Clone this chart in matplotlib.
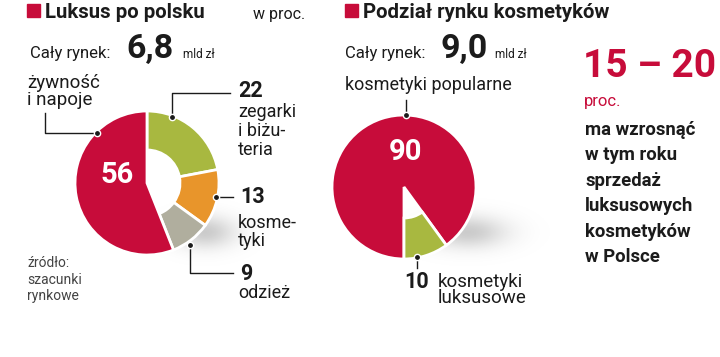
import numpy as np
import matplotlib
matplotlib.use("Agg")
import matplotlib.pyplot as plt
from matplotlib.patches import Rectangle

# ---------------- data ----------------
lux_categories = ["zegarki i biżuteria", "kosmetyki", "odzież", "żywność i napoje"]
lux_values = [22, 13, 9, 56]
cos_categories = ["kosmetyki popularne", "kosmetyki luksusowe"]
cos_values = [90, 10]
lux_total = "6,8"
cos_total = "9,0"
growth_range = "15 – 20"

RED = "#c70c3a"
GREEN = "#a8b840"
ORANGE = "#e8952b"
GRAY = "#b0ae9e"
DARK = "#1b1b1b"

plt.rcParams['font.family'] = ['Roboto', 'DejaVu Sans']

W, H = 720, 357
fig = plt.figure(figsize=(7.2, 3.57), dpi=100)
ax = fig.add_axes([0, 0, 1, 1])

def Y(y):
    return H - y

# ---------------- soft shadows ----------------
def shadow(cx, cy, sx, sy, alpha=0.45):
    xs = np.linspace(cx - 3 * sx, cx + 3 * sx, 120)
    ys = np.linspace(cy - 3 * sy, cy + 3 * sy, 80)
    X, YY = np.meshgrid(xs, ys)
    a = np.exp(-((X - cx) / sx) ** 2 - ((YY - cy) / sy) ** 2) * alpha
    img = np.zeros(X.shape + (4,))
    img[..., :3] = 0.55
    img[..., 3] = a
    ax.imshow(img, extent=(xs[0], xs[-1], Y(ys[-1]), Y(ys[0])), origin='upper',
              zorder=0, interpolation='bilinear')

shadow(205, 232, 30, 16)
shadow(468, 232, 38, 16)

# ---------------- left donut ----------------
lux_colors = [GREEN, ORANGE, GRAY, RED]
c1 = (147, Y(183))
r1 = 72
w1, _ = ax.pie(lux_values, colors=lux_colors, startangle=90, counterclock=False,
               center=c1, radius=r1,
               wedgeprops=dict(width=r1 - 33, edgecolor='white', linewidth=2.0))
w1[3].set_width(None)

# ---------------- right pie ----------------
c2 = (404, Y(187))
r2 = 72
w2, _ = ax.pie(cos_values, colors=[RED, GREEN], startangle=270, counterclock=False,
               center=c2, radius=r2,
               wedgeprops=dict(width=r2 - 31, edgecolor='white', linewidth=2.0))
w2[0].set_width(None)

ax.set_xlim(0, W)
ax.set_ylim(0, H)
ax.set_aspect('equal')
ax.axis('off')

BODY = 13

# ---------------- titles ----------------
ax.add_patch(Rectangle((27, Y(17)), 13, 13, color=RED, zorder=3))
ax.text(45, Y(18), "Luksus po polsku", fontsize=14.7, fontweight='bold', color=DARK, va='baseline')
ax.text(253, Y(19), "w proc.", fontsize=11.5, color=DARK, va='baseline')

ax.add_patch(Rectangle((345, Y(17)), 13, 13, color=RED, zorder=3))
ax.text(363, Y(18), "Podział rynku kosmetyków", fontsize=14.7, fontweight='bold', color=DARK, va='baseline')

# totals
ax.text(30, Y(58), "Cały rynek:", fontsize=12, color=DARK, va='baseline')
ax.text(126, Y(58), lux_total, fontsize=24.5, fontweight='bold', color=DARK, va='baseline')
ax.text(183, Y(58), "mld zł", fontsize=8.5, color=DARK, va='baseline')

ax.text(345, Y(58), "Cały rynek:", fontsize=12, color=DARK, va='baseline')
ax.text(441, Y(58), cos_total, fontsize=24.5, fontweight='bold', color=DARK, va='baseline')
ax.text(495, Y(58), "mld zł", fontsize=8.5, color=DARK, va='baseline')

# ---------------- left labels ----------------
lw = 1.0
def lead(xs, ys, dot):
    ax.plot(xs, [Y(v) for v in ys], color=DARK, lw=lw, zorder=4)
    ax.plot([dot[0]], [Y(dot[1])], 'o', color=DARK, ms=4.5, mec='white', mew=1.0, zorder=5)

ax.text(27, Y(88), "żywność", fontsize=BODY + 0.5, color=DARK, va='baseline')
ax.text(27, Y(105), "i napoje", fontsize=BODY + 0.5, color=DARK, va='baseline')
lead([45, 45, 97], [113, 133, 133], (97, 133))

ax.text(117, Y(175), str(lux_values[3]), fontsize=21, fontweight='bold', color='white',
        ha='center', va='center', zorder=6)

lead([172, 172, 230], [117, 93, 93], (172, 117))
ax.text(238, Y(97), str(lux_values[0]), fontsize=15.5, fontweight='bold', color=DARK, va='baseline')
for i, t in enumerate(["zegarki", "i biżu-", "teria"]):
    ax.text(238, Y(117 + 19 * i), t, fontsize=BODY, color=DARK, va='baseline')

lead([216, 233], [197, 197], (216, 197))
ax.text(240, Y(203), str(lux_values[1]), fontsize=15.5, fontweight='bold', color=DARK, va='baseline')
for i, t in enumerate(["kosme-", "tyki"]):
    ax.text(238, Y(228 + 18 * i), t, fontsize=BODY, color=DARK, va='baseline')

lead([190, 190, 233], [245, 273, 273], (190, 245))
ax.text(240, Y(280), str(lux_values[2]), fontsize=15.5, fontweight='bold', color=DARK, va='baseline')
ax.text(238, Y(298), "odzież", fontsize=BODY, color=DARK, va='baseline')

for i, t in enumerate(["źródło:", "szacunki", "rynkowe"]):
    ax.text(27, Y(267 + 16.5 * i), t, fontsize=10, color="#444444", va='baseline')

# ---------------- right labels ----------------
ax.text(345, Y(90), cos_categories[0], fontsize=BODY, color=DARK, va='baseline')
lead([406, 406], [100, 115], (406, 115))
ax.text(405, Y(152), str(cos_values[0]), fontsize=21, fontweight='bold', color='white',
        ha='center', va='center', zorder=6)

lead([417, 417], [257, 268], (417, 257))
ax.text(404, Y(288), str(cos_values[1]), fontsize=15.5, fontweight='bold', color=DARK, va='baseline')
ax.text(438, Y(303), "kosmetyki\nluksusowe", fontsize=BODY + 0.5, color=DARK, va='baseline',
        linespacing=0.85)

ax.text(583, Y(77), growth_range, fontsize=28, fontweight='bold', color=RED, va='baseline')
ax.text(584, Y(106), "proc.", fontsize=12, color=RED, va='baseline')
for i, t in enumerate(["ma wzrosnąć", "w tym roku", "sprzedaż", "luksusowych",
                       "kosmetyków", "w Polsce"]):
    ax.text(585, Y(135 + 25.4 * i), t, fontsize=13.3, fontweight='bold', color=DARK, va='baseline')

fig.savefig("out.png", dpi=100)
